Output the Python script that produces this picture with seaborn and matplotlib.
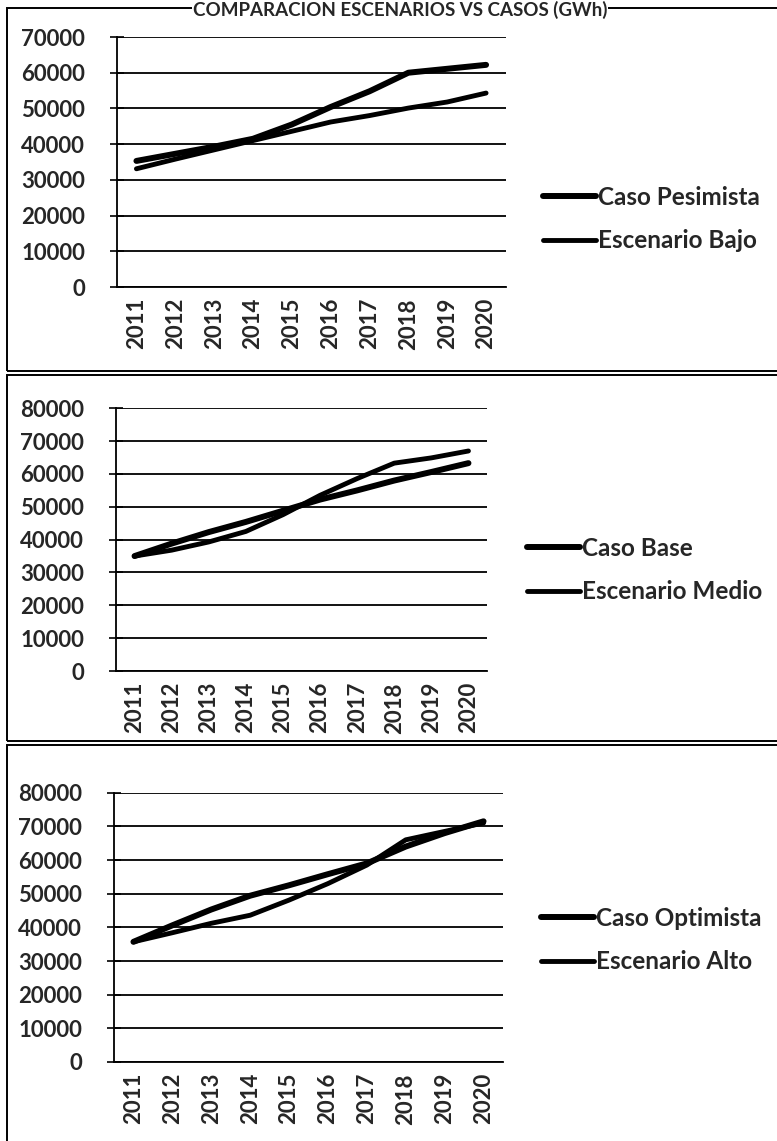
import matplotlib
matplotlib.use("Agg")
import matplotlib.pyplot as plt
import seaborn as sns
import pandas as pd
from matplotlib.patches import Rectangle

years = [2011, 2012, 2013, 2014, 2015, 2016, 2017, 2018, 2019, 2020]

caso_pesimista = [35300, 37300, 39300, 41500, 45500, 50400, 54800, 60000, 61100, 62200]
escenario_bajo = [33100, 35800, 38400, 41000, 43600, 46200, 48000, 50100, 51800, 54300]

caso_base = [35000, 38800, 42300, 45400, 48800, 52200, 55000, 58000, 60600, 63300]
escenario_medio = [35000, 36800, 39300, 42500, 47600, 53500, 58600, 63300, 64900, 67000]

caso_optimista = [35700, 40600, 45300, 49400, 52500, 55800, 59000, 64000, 68000, 71500]
escenario_alto = [35700, 38400, 41200, 43600, 48100, 53000, 58500, 66000, 68500, 71000]

title = "COMPARACION ESCENARIOS VS CASOS (GWh)"

panels = [
    (("Caso Pesimista", caso_pesimista), ("Escenario Bajo", escenario_bajo), 70000),
    (("Caso Base", caso_base), ("Escenario Medio", escenario_medio), 80000),
    (("Caso Optimista", caso_optimista), ("Escenario Alto", escenario_alto), 80000),
]

sns.set_style("white")
plt.rcParams["font.family"] = ["Lato", "DejaVu Sans"]
plt.rcParams["font.weight"] = "bold"

W, H = 777, 1141
fig = plt.figure(figsize=(W / 100, H / 100), dpi=100)

def fx(px):
    return px / W

def fy(py):
    return 1 - py / H

# axes rectangles in pixels: left, right, top, bottom
ax_px = [(117, 505.5, 37, 287), (116, 487, 408.3, 671), (114, 503, 792.7, 1062)]
legend_px = [(543, 219), (527, 570), (541, 940)]
border_px = [(7, 8, 371), (7, 375, 741), (7, 745, 1160)]

for (s1, s2, ymax), (l, r, t, b), (lx, ly), (bx, bt, bb) in zip(panels, ax_px, legend_px, border_px):
    fig.patches.append(Rectangle((fx(bx), fy(bb)), fx(W + 20) - fx(bx), fy(bt) - fy(bb),
                                 transform=fig.transFigure, fill=False, edgecolor="black",
                                 linewidth=1.4, zorder=0))
    ax = fig.add_axes([fx(l), fy(b), fx(r) - fx(l), fy(t) - fy(b)])
    df = pd.DataFrame({
        "Año": years + years,
        "GWh": s1[1] + s2[1],
        "Serie": [s1[0]] * len(years) + [s2[0]] * len(years),
    })
    sns.lineplot(data=df, x="Año", y="GWh", hue="Serie", palette=["black", "black"],
                 ax=ax, legend=False, linewidth=3.4, sort=False)
    for ln, lw in zip(ax.lines, [4.3, 3.5]):
        ln.set_linewidth(lw)
        ln.set_solid_capstyle("round")
    ax.set_xlim(years[0] - 0.5, years[-1] + 0.5)
    ax.set_ylim(0, ymax)
    ax.set_yticks(range(0, ymax + 1, 10000))
    ax.set_yticklabels([str(v) for v in range(0, ymax + 1, 10000)], fontsize=16, fontweight="bold")
    ax.set_xticks(years)
    ax.set_xticklabels([str(y) for y in years], rotation=90, fontsize=16, fontweight="bold")
    ax.set_xticks([y - 0.5 for y in years] + [years[-1] + 0.5], minor=True)
    ax.tick_params(axis="x", which="major", length=0, pad=8)
    ax.tick_params(axis="x", which="minor", length=7, width=1.2, direction="out", color="black")
    ax.tick_params(axis="y", length=10, width=1.2, direction="inout", color="black", pad=18, left=True)
    ax.grid(axis="y", color="black", linewidth=1.3)
    ax.grid(axis="x", visible=False)
    ax.set_axisbelow(True)
    for side in ["top", "right"]:
        ax.spines[side].set_visible(False)
    for side in ["left", "bottom"]:
        ax.spines[side].set_color("black")
        ax.spines[side].set_linewidth(1.3)
    ax.set_xlabel("")
    ax.set_ylabel("")
    handles = ax.lines[:2]
    ax.legend(handles, [s1[0], s2[0]], loc="center left",
              bbox_to_anchor=(fx(lx), fy(ly)), bbox_transform=fig.transFigure,
              frameon=False, handlelength=2.2, handletextpad=0.05, labelspacing=0.85,
              borderpad=0, borderaxespad=0, prop={"size": 17.5, "weight": "bold"})

fig.text(fx(400), fy(1), title, ha="center", va="top", fontsize=13.5, fontweight="bold",
         zorder=5, bbox=dict(facecolor="white", edgecolor="none", pad=0.5))

fig.savefig("out.png", dpi=100)
